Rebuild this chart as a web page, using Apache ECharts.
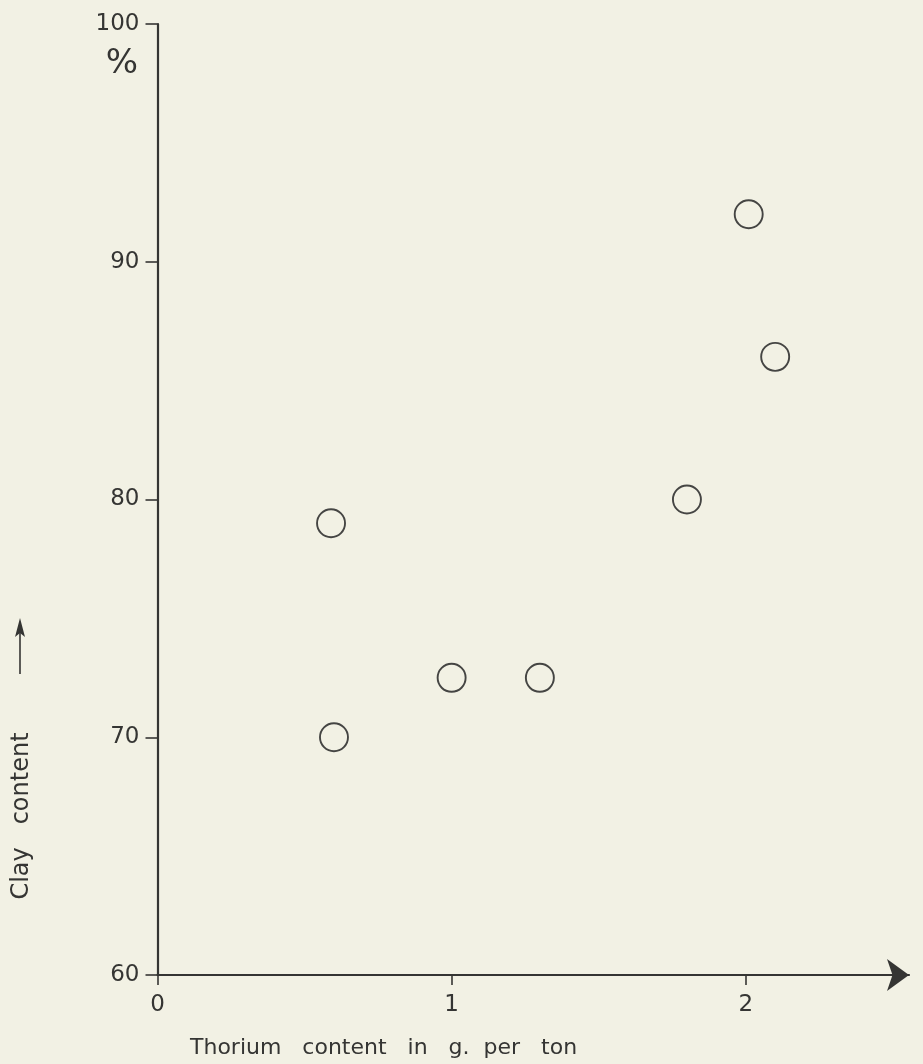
<!DOCTYPE html>
<html>
<head>
<meta charset="utf-8">
<script src="https://cdn.jsdelivr.net/npm/echarts@6/dist/echarts.min.js"></script>
<style>
html,body{margin:0;padding:0;background:#f2f1e4;}
#c{width:923px;height:1064px;}
</style>
</head>
<body>
<div id="c"></div>
<script>
// Data
const thorium = [0.59, 1.0, 1.3, 0.60, 2.01, 2.10, 1.80];   // g per ton
const clay    = [79.0, 72.5, 72.5, 70.0, 92.0, 86.0, 80.0];  // %
const xTickValues = [0, 1, 2];
const yTickValues = [60, 70, 80, 90, 100];
const xTitle = 'Thorium   content   in   g.  per   ton';
const yTitle = 'Clay   content';
const yUnit = '%';

const ink = '#353533';
const bg = '#f2f1e4';
const font = 'DejaVu Sans';

const points = thorium.map((t, i) => [t, clay[i]]);

const chart = echarts.init(document.getElementById('c'), null, {renderer: 'canvas'});
chart.setOption({
  backgroundColor: bg,
  animation: false,
  grid: {left: 157.5, top: 24, right: 14, bottom: 89, containLabel: false, outerBoundsMode: 'none'},
  xAxis: {
    type: 'value', min: 0, max: 2.555,
    splitLine: {show: false},
    axisLine: {show: true, onZero: false, lineStyle: {color: ink, width: 2.2},
      symbol: ['none', 'arrow'], symbolSize: [24, 22], symbolOffset: [0, 0]},
    axisTick: {show: true, inside: false, length: 10, customValues: xTickValues, lineStyle: {color: ink, width: 1.6}},
    axisLabel: {show: true, margin: 19, customValues: xTickValues, color: ink, fontFamily: font, fontSize: 23}
  },
  yAxis: {
    type: 'value', min: 60, max: 100, interval: 10,
    splitLine: {show: false},
    axisLine: {show: true, onZero: false, lineStyle: {color: ink, width: 2.2}},
    axisTick: {show: true, inside: false, length: 12, lineStyle: {color: ink, width: 1.6}},
    axisLabel: {show: true, margin: 18, color: ink, fontFamily: font, fontSize: 23,
      formatter: v => yTickValues.indexOf(v) >= 0 ? String(v) : ''}
  },
  graphic: [
    {type: 'text', left: 190, top: 1037,
      style: {text: xTitle, fill: ink, font: '22px "DejaVu Sans"'}},
    {type: 'text', x: 122, y: 64,
      style: {text: yUnit, fill: ink, font: '34px "DejaVu Sans"', align: 'center', verticalAlign: 'middle'}},
    {type: 'text', x: 22, y: 816, rotation: Math.PI / 2,
      style: {text: yTitle, fill: ink, font: '24px "DejaVu Sans"', align: 'center', verticalAlign: 'middle'}},
    {type: 'line', shape: {x1: 20, y1: 674, x2: 20, y2: 628}, style: {stroke: ink, lineWidth: 1.6}},
    {type: 'polygon', shape: {points: [[20, 618], [15, 637], [20, 633], [25, 637]]}, style: {fill: ink}}
  ],
  series: [{
    type: 'scatter',
    data: points,
    symbol: 'circle',
    symbolSize: 28,
    itemStyle: {color: bg, borderColor: '#454543', borderWidth: 1.9, opacity: 1}
  }]
});
</script>
</body>
</html>
